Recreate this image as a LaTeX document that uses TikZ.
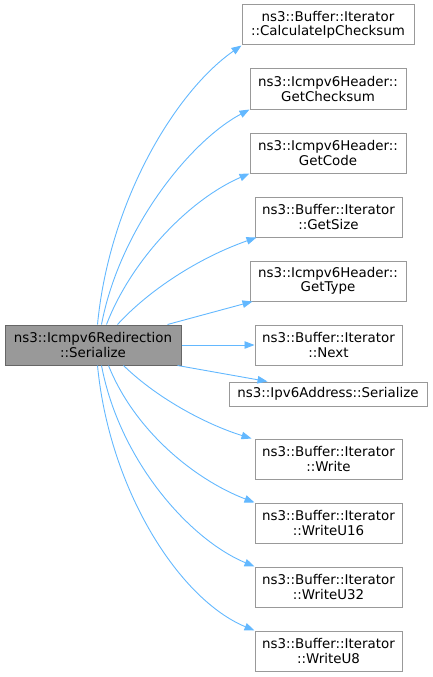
\documentclass[tikz,border=0pt]{standalone}
\usepackage{fontspec}
\setmainfont{DejaVu Sans}
\usetikzlibrary{arrows.meta}
\definecolor{edgeblue}{HTML}{63B8FF}
\definecolor{boxgrey}{HTML}{999999}
\definecolor{srcfill}{HTML}{999999}
\definecolor{srcdraw}{HTML}{666666}
\begin{document}
\begin{tikzpicture}[x=1pt,y=-1pt,
  fn/.style={draw=boxgrey, fill=white, line width=1pt, rectangle, inner sep=0pt, align=center, font=\fontsize{13.4}{14.5}\selectfont, text=black},
  srcbox/.style={fn, fill=srcfill, draw=srcdraw},
  call/.style={draw=edgeblue, line width=0.9pt, -{Triangle[length=10pt,width=7.5pt]}}]
\useasboundingbox (0,0) rectangle (432,677);
\node[srcbox, minimum width=176pt, minimum height=40pt] (src) at (93,345) {ns3::Icmpv6Redirection\\::Serialize};
\node[fn, minimum width=172pt, minimum height=40pt] (calc) at (328,25) {ns3::Buffer::Iterator\\::CalculateIpChecksum};
\node[fn, minimum width=156pt, minimum height=40pt] (gchk) at (328,89) {ns3::Icmpv6Header::\\GetChecksum};
\node[fn, minimum width=156pt, minimum height=40pt] (gcode) at (328,153) {ns3::Icmpv6Header::\\GetCode};
\node[fn, minimum width=147pt, minimum height=40pt] (gsize) at (328.5,217) {ns3::Buffer::Iterator\\::GetSize};
\node[fn, minimum width=156pt, minimum height=40pt] (gtype) at (328,281) {ns3::Icmpv6Header::\\GetType};
\node[fn, minimum width=147pt, minimum height=40pt] (next) at (328.5,345) {ns3::Buffer::Iterator\\::Next};
\node[fn, minimum width=198pt, minimum height=24pt] (ipv6) at (328,394) {ns3::Ipv6Address::Serialize};
\node[fn, minimum width=147pt, minimum height=40pt] (write) at (328.5,459) {ns3::Buffer::Iterator\\::Write};
\node[fn, minimum width=147pt, minimum height=40pt] (w16) at (328.5,523) {ns3::Buffer::Iterator\\::WriteU16};
\node[fn, minimum width=147pt, minimum height=40pt] (w32) at (328.5,587) {ns3::Buffer::Iterator\\::WriteU32};
\node[fn, minimum width=147pt, minimum height=40pt] (w8) at (328.5,651) {ns3::Buffer::Iterator\\::WriteU8};
\draw[call] (src.north west) ++(93,0) .. controls +(12,-125) and +(-65,45) .. (calc.south west);
\draw[call] (src.north west) ++(97,0) .. controls +(18,-95) and +(-60,32) .. (gchk.south west);
\draw[call] (src.north west) ++(102,0) .. controls +(25,-65) and +(-60,26) .. (gcode.south west);
\draw[call] (src.north west) ++(113,0) .. controls +(32,-35) and +(-57,20) .. ([xshift=2pt]gsize.south west);
\draw[call] (src.north west) ++(163,0) -- ([xshift=3pt]gtype.south west);
\draw[call] (src.east) -- (next.west);
\draw[call] (src.south east) ++(-4,0) -- ([xshift=39pt]ipv6.north west);
\draw[call] (src.south west) ++(119,0) .. controls +(36,35) and +(-42,-13) .. ([xshift=-3pt]write.north west);
\draw[call] (src.south west) ++(104,0) .. controls +(26,65) and +(-60,-23) .. (w16.north west);
\draw[call] (src.south west) ++(97,0) .. controls +(18,95) and +(-65,-27) .. (w32.north west);
\draw[call] (src.south west) ++(93,0) .. controls +(12,125) and +(-75,-31) .. (w8.north west);
\end{tikzpicture}
\end{document}
